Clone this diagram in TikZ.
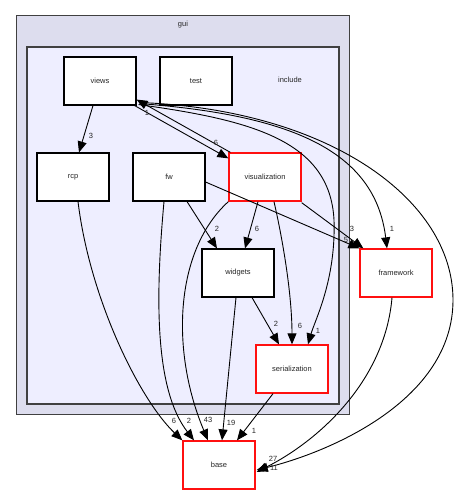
\documentclass[tikz,border=0pt]{standalone}
\usepackage{fontspec}
\setmainfont{Liberation Sans}
\usetikzlibrary{arrows.meta}
\definecolor{outerfill}{HTML}{DDDDEE}
\definecolor{innerfill}{HTML}{EEEEFF}
\definecolor{frame}{HTML}{404040}
\definecolor{redb}{HTML}{FF1010}
\tikzset{
  dir/.style={draw=black, line width=1.1pt, fill=white, minimum width=72pt, minimum height=48pt, inner sep=0pt, font=\fontsize{7.5}{9}\selectfont, text=black!85},
  reddir/.style={dir, draw=redb, line width=1.3pt},
  edge/.style={draw=black, line width=0.9pt, -{Triangle[length=11pt,width=9pt]}},
  lbl/.style={font=\fontsize{7.5}{9}\selectfont, text=black!85, inner sep=0pt},
}
\begin{document}
\begin{tikzpicture}[x=1pt,y=-1pt]
\useasboundingbox (0,0) rectangle (459,495);
\fill[white] (0,0) rectangle (459,495);
% clusters
\draw[fill=outerfill, draw=frame, line width=1pt] (16,16) rectangle (349,414);
\node[lbl] (guilbl) at (183,25) {gui};
\draw[fill=innerfill, draw=frame, line width=1.6pt] (27,47) rectangle (339,404);
\node[lbl] (inclbl) at (290,80) {include};
% nodes
\node[dir] (views) at (100,81) {views};
\node[dir] (test) at (196,81) {test};
\node[dir] (rcp) at (73,177) {rcp};
\node[dir] (fw) at (169,177) {fw};
\node[reddir] (visualization) at (265,177) {visualization};
\node[dir] (widgets) at (238,273) {widgets};
\node[reddir] (serialization) at (292,369) {serialization};
\node[reddir] (framework) at (396,273) {framework};
\node[reddir] (base) at (219,465) {base};
% edges
\draw[edge] ([xshift=-7pt]views.south) -- ([xshift=6pt]rcp.north);
\draw[edge] ([xshift=-2pt]views.south east) -- ([yshift=-6pt]visualization.north west);
\draw[edge] ([xshift=2pt]visualization.north west) -- ([yshift=6pt]views.south east);
\draw[edge] ([xshift=2pt,yshift=1pt]views.south east) .. controls (250,120) and (330,140) .. (334,220) .. controls (336,280) and (315,320) .. ([xshift=16pt]serialization.north);
\draw[edge] ([xshift=3pt,yshift=2pt]views.south east) .. controls (290,115) and (375,150) .. ([xshift=-9pt]framework.north);
\draw[edge] ([xshift=4pt,yshift=3pt]views.south east) .. controls (330,110) and (453,200) .. (453,300) .. controls (453,400) and (330,452) .. ([xshift=1pt,yshift=-5pt]base.east);
\draw[edge] ([xshift=-4pt]framework.south) .. controls (385,380) and (320,440) .. ([xshift=1pt,yshift=-7pt]base.east);
\draw[edge] ([xshift=-5pt]fw.south) .. controls (155,300) and (155,390) .. ([xshift=-25pt]base.north);
\draw[edge] (visualization.south west) .. controls (175,250) and (170,350) .. ([xshift=-11pt]base.north);
\draw[edge] ([xshift=5pt]rcp.south) .. controls (90,300) and (140,400) .. (base.north west);
\draw[edge] ([xshift=18pt]fw.south) -- ([xshift=-21pt]widgets.north);
\draw[edge] ([xshift=-7pt]visualization.south) -- ([xshift=7pt]widgets.north);
\draw[edge] ([yshift=-5pt]fw.east) -- (framework.north west);
\draw[edge] ([yshift=-1pt]visualization.south east) -- ([xshift=4pt]framework.north west);
\draw[edge] ([xshift=9pt]visualization.south) .. controls (285,250) and (292,300) .. (serialization.north);
\draw[edge] ([xshift=14pt]widgets.south) -- ([xshift=-13pt]serialization.north);
\draw[edge] ([xshift=-2pt]widgets.south) -- ([xshift=3pt]base.north);
\draw[edge] ([xshift=-19pt]serialization.south) -- ([xshift=18pt]base.north);
% labels
\node[lbl] (l1) at (91,136) {3};
\node[lbl] (l2) at (147,113) {1};
\node[lbl] (l3) at (216,143) {6};
\node[lbl] (l4) at (217,229) {2};
\node[lbl] (l5) at (257,229) {6};
\node[lbl] (l6) at (352,229) {3};
\node[lbl] (l7) at (346,240) {5};
\node[lbl] (l8) at (392,229) {1};
\node[lbl] (l9) at (276,324) {2};
\node[lbl] (l10) at (300,326) {6};
\node[lbl] (l11) at (318,331) {1};
\node[lbl] (l12) at (174,421) {6};
\node[lbl] (l13) at (189,421) {2};
\node[lbl] (l14) at (208,420) {43};
\node[lbl] (l15) at (231,423) {19};
\node[lbl] (l16) at (254,431) {1};
\node[lbl] (l17) at (273,459) {27};
\node[lbl] (l18) at (274,468) {11};
\end{tikzpicture}
\end{document}
